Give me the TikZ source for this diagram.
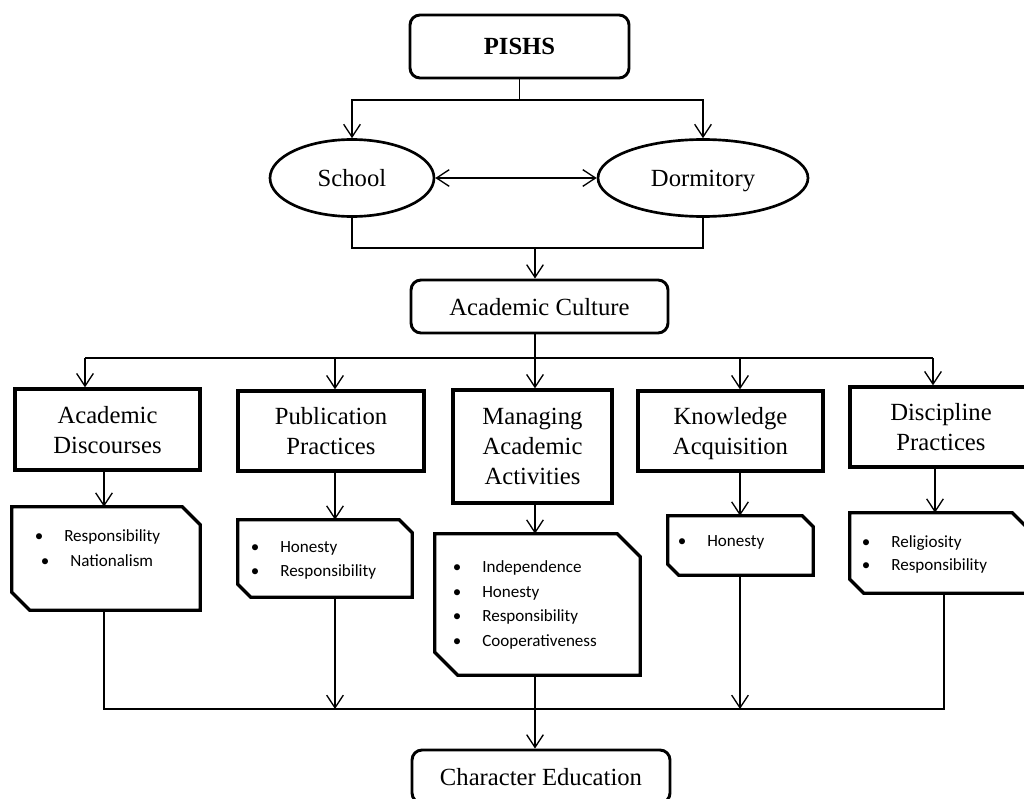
\documentclass[tikz,border=0pt]{standalone}
\usepackage{fontspec}
\setmainfont{Liberation Serif}
\newfontfamily\bulfont{Carlito}
\usetikzlibrary{arrows.meta,fit,shapes.geometric,calc}

\newcommand\snipdraw[2]{%
  \draw[boxline] (#1.north west) -- ($(#1.north east)+(-#2,0)$) -- ($(#1.north east)+(0,#2)$)
    -- (#1.south east) -- ($(#1.south west)+(#2,0)$) -- ($(#1.south west)+(0,-#2)$) -- cycle;}

\begin{document}
\begin{tikzpicture}[x=0.75pt,y=-0.75pt,
  conn/.style={line width=1pt, black},
  arr/.style={conn, -{Straight Barb[length=9.5pt,width=12.5pt]}},
  darr/.style={conn, {Straight Barb[length=9.5pt,width=12.5pt]}-{Straight Barb[length=9.5pt,width=12.5pt]}},
  lbl/.style={font=\fontsize{18.5}{22.5}\selectfont, align=center, text depth=0pt},
  rbox/.style={lbl, draw, line width=2.2pt, rounded corners=7.5pt, inner sep=0pt},
  sbox/.style={lbl, draw, line width=2.5pt, inner sep=0pt},
  oval/.style={lbl, ellipse, draw, line width=2pt, inner sep=0pt},
  boxline/.style={line width=2.5pt, line join=miter},
  snipbox/.style={inner sep=0pt},
  item/.style={anchor=west, inner sep=0pt, font=\bulfont\fontsize{12.8}{15}\selectfont},
]
\useasboundingbox (0,0) rectangle (1024,799);
\fill[white] (0,0) rectangle (1024,799);

% top
\node[rbox, minimum width=164.25pt, minimum height=47.25pt] (pishs) at (519.5,46.5) {\textbf{PISHS}};
\node[oval, minimum width=123pt, minimum height=57.75pt] (school) at (352,178) {School};
\node[oval, minimum width=157.5pt, minimum height=57.75pt] (dorm) at (703,178) {Dormitory};
\node[rbox, minimum width=192.75pt, minimum height=39.75pt] (ac) at (539.5,306.5) {Academic Culture};

% five boxes
\node[sbox, minimum width=138.75pt, minimum height=60.75pt] (ad) at (107.5,429.5) {Academic\\Discourses};
\node[sbox, minimum width=139.5pt, minimum height=60pt] (pp) at (331,431) {Publication\\Practices};
\node[sbox, minimum width=119.25pt, minimum height=84.75pt] (maa) at (532.5,446.5) {Managing\\Academic\\Activities};
\node[sbox, minimum width=138.75pt, minimum height=60pt] (ka) at (730.5,431) {Knowledge\\Acquisition};
\node[sbox, minimum width=136.5pt, minimum height=60pt] (dp) at (941,427) {Discipline\\Practices};

% snipped boxes
\node[snipbox, fit={(12,507) (200,610)}] (adl) {};
\node[snipbox, fit={(238,520) (412,597)}] (ppl) {};
\node[snipbox, fit={(435,534) (640,675)}] (maal) {};
\node[snipbox, fit={(668,516) (813,575)}] (kal) {};
\node[snipbox, fit={(850,513) (1026,593)}] (dpl) {};
\snipdraw{adl}{18}
\snipdraw{ppl}{13}
\snipdraw{maal}{23}
\snipdraw{kal}{11}
\snipdraw{dpl}{14}

% items
\node[item] (ad1) at (64,537) {\llap{•\hspace{15.6pt}}Responsibility};
\node[item] (ad2) at (70,561) {\llap{•\hspace{15.6pt}}Nationalism};
\node[item] (pp1) at (280,548) {\llap{•\hspace{15.6pt}}Honesty};
\node[item] (pp2) at (280,572) {\llap{•\hspace{15.6pt}}Responsibility};
\node[item] (ma1) at (482,568) {\llap{•\hspace{15.6pt}}Independence};
\node[item] (ma2) at (482,593) {\llap{•\hspace{15.6pt}}Honesty};
\node[item] (ma3) at (482,617) {\llap{•\hspace{15.6pt}}Responsibility};
\node[item] (ma4) at (482,642) {\llap{•\hspace{15.6pt}}Cooperativeness};
\node[item] (ka1) at (707,542) {\llap{•\hspace{15.6pt}}Honesty};
\node[item] (dp1) at (891,543) {\llap{•\hspace{15.6pt}}Religiosity};
\node[item] (dp2) at (891,566) {\llap{•\hspace{15.6pt}}Responsibility};

% bottom
\node[rbox, minimum width=193.5pt, minimum height=39.75pt] (ce) at (541,776.5) {Character Education};

% connectors top
\coordinate (bus1) at (0,100);
\draw[conn] (pishs.south) -- (pishs.south |- bus1);
\draw[arr] (pishs.south |- bus1) -| (school.north);
\draw[arr] (pishs.south |- bus1) -| (dorm.north);
\draw[darr] (school.east) -- (dorm.west);
\coordinate (bus2) at (535,248);
\draw[conn] (school.south) |- (bus2) -| (dorm.south);
\draw[arr] (bus2) -- (bus2 |- ac.north);

% distribution
\coordinate (bus3) at (535,358);
\coordinate (t1) at (85,358);
\coordinate (t2) at (335,358);
\coordinate (t4) at (740,358);
\coordinate (t5) at (933,358);
\draw[conn] (ac.south -| bus3) -- (bus3);
\draw[conn] (t1) -- (t5);
\draw[arr] (t1) -- (t1 |- ad.north);
\draw[arr] (t2) -- (t2 |- pp.north);
\draw[arr] (bus3) -- (bus3 |- maa.north);
\draw[arr] (t4) -- (t4 |- ka.north);
\draw[arr] (t5) -- (t5 |- dp.north);

% box to list
\coordinate (x1) at (104,0);
\coordinate (x2) at (335,0);
\coordinate (x3) at (535,0);
\coordinate (x4) at (740,0);
\coordinate (x5) at (935,0);
\coordinate (x6) at (944,0);
\draw[arr] (ad.south -| x1) -- (adl.north -| x1);
\draw[arr] (pp.south -| x2) -- (ppl.north -| x2);
\draw[arr] (maa.south -| x3) -- (maal.north -| x3);
\draw[arr] (ka.south -| x4) -- (kal.north -| x4);
\draw[arr] (dp.south -| x5) -- (dpl.north -| x5);

% collection
\coordinate (b5) at (944,709);
\draw[conn] (adl.south -| x1) |- (b5) -- (dpl.south -| x6);
\draw[arr] (ppl.south -| x2) -- (b5 -| x2);
\draw[arr] (kal.south -| x4) -- (b5 -| x4);
\draw[arr] (maal.south -| x3) -- (ce.north -| x3);
\end{tikzpicture}
\end{document}
